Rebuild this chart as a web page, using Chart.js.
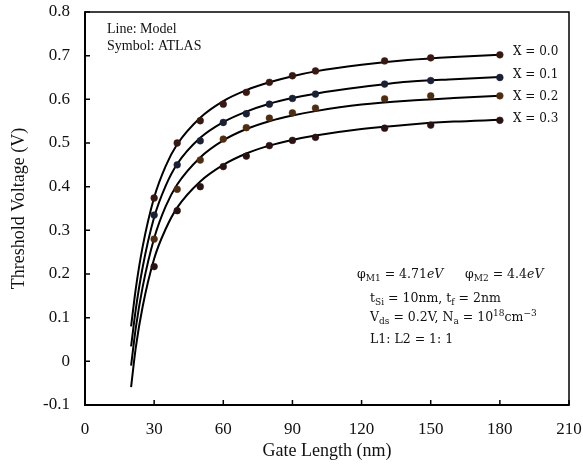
<!DOCTYPE html>
<html>
<head>
<meta charset="utf-8">
<script src="https://cdn.jsdelivr.net/npm/chart.js@4.4.1/dist/chart.umd.min.js"></script>
<style>
  html, body { margin: 0; padding: 0; background: #ffffff; }
  #wrap { width: 583px; height: 467px; }
</style>
</head>
<body>
<div id="wrap"><canvas id="c" width="583" height="467"></canvas></div>
<script>
// ---------- data ----------
const seriesNames = ['X = 0.0', 'X = 0.1', 'X = 0.2', 'X = 0.3'];

// ATLAS symbols
const atlasL = [30, 40, 50, 60, 70, 80, 90, 100, 130, 150, 180];
const atlasX00 = [0.374, 0.500, 0.551, 0.589, 0.616, 0.639, 0.654, 0.665, 0.688, 0.695, 0.702];
const atlasX01 = [0.335, 0.450, 0.505, 0.547, 0.567, 0.589, 0.602, 0.612, 0.635, 0.643, 0.650];
const atlasX02 = [0.280, 0.394, 0.461, 0.509, 0.535, 0.557, 0.569, 0.580, 0.601, 0.608, 0.608];
const atlasX03 = [0.217, 0.345, 0.400, 0.446, 0.470, 0.494, 0.506, 0.513, 0.534, 0.541, 0.552];

// Model lines
const modelL = [20, 22, 25, 30, 35, 40, 50, 60, 70, 80, 90, 100, 120, 140, 160, 180];
const modelX00 = [0.080, 0.165, 0.262, 0.375, 0.447, 0.497, 0.558, 0.596, 0.621, 0.639, 0.653, 0.664, 0.679, 0.690, 0.697, 0.702];
const modelX01 = [0.034, 0.118, 0.215, 0.330, 0.402, 0.452, 0.512, 0.548, 0.572, 0.590, 0.603, 0.613, 0.628, 0.640, 0.646, 0.651];
const modelX02 = [-0.010, 0.075, 0.170, 0.282, 0.355, 0.405, 0.467, 0.506, 0.532, 0.550, 0.563, 0.573, 0.588, 0.597, 0.603, 0.608];
const modelX03 = [-0.059, 0.030, 0.125, 0.235, 0.303, 0.352, 0.412, 0.450, 0.476, 0.494, 0.507, 0.517, 0.532, 0.542, 0.549, 0.553];

// tick labels
const xTickValues = [0, 30, 60, 90, 120, 150, 180, 210];
const yTickLabels = ['-0.1', '0', '0.1', '0.2', '0.3', '0.4', '0.5', '0.6', '0.7', '0.8'];

// ---------- build datasets ----------
const pts = (xs, ys) => xs.map((x, i) => ({ x: x, y: ys[i] }));
const atlasSets = [atlasX00, atlasX01, atlasX02, atlasX03];
const modelSets = [modelX00, modelX01, modelX02, modelX03];
const dotColors = ['#3a1812', '#1a2036', '#4e2d10', '#2a1212'];

const datasets = [];
modelSets.forEach((ys, i) => {
  datasets.push({
    label: 'Model ' + seriesNames[i],
    data: pts(modelL, ys),
    showLine: true,
    borderColor: '#000000',
    borderWidth: 2,
    pointRadius: 0,
    cubicInterpolationMode: 'monotone',
    fill: false,
    order: 2
  });
});
atlasSets.forEach((ys, i) => {
  datasets.push({
    label: 'ATLAS ' + seriesNames[i],
    data: pts(atlasL, ys),
    showLine: false,
    pointRadius: 3.4,
    pointBackgroundColor: dotColors[i],
    pointBorderColor: dotColors[i],
    pointBorderWidth: 0.5,
    order: 1
  });
});

// ---------- frame + inward ticks ----------
const framePlugin = {
  id: 'frame',
  afterDraw(chart) {
    const { ctx, chartArea: a, scales: { x, y } } = chart;
    ctx.save();
    ctx.strokeStyle = '#000';
    ctx.lineCap = 'butt';
    ctx.lineWidth = 1.5;
    ctx.beginPath();
    ctx.moveTo(a.left, a.top); ctx.lineTo(a.right, a.top); ctx.lineTo(a.right, a.bottom);
    ctx.stroke();
    ctx.lineWidth = 2;
    ctx.beginPath();
    ctx.moveTo(a.left, a.top - 0.75); ctx.lineTo(a.left, a.bottom); ctx.lineTo(a.right + 0.75, a.bottom);
    ctx.stroke();
    ctx.lineWidth = 1.5;
    ctx.beginPath();
    yTickLabels.forEach(t => {
      const py = y.getPixelForValue(parseFloat(t));
      ctx.moveTo(a.left, py); ctx.lineTo(a.left + 5, py);
    });
    xTickValues.forEach(v => {
      const px = x.getPixelForValue(v);
      ctx.moveTo(px, a.bottom); ctx.lineTo(px, a.bottom - 5);
    });
    ctx.stroke();
    ctx.restore();
  }
};

// ---------- annotation text ----------
function drawRich(ctx, x, y, segs, size, family) {
  let cx = x;
  segs.forEach(s => {
    const isSub = s.sub, isSup = s.sup;
    const fs = (isSub || isSup) ? size * 0.72 : size;
    ctx.font = (s.it ? 'italic ' : '') + fs + 'px ' + family;
    const dy = isSub ? size * 0.28 : (isSup ? -size * 0.38 : 0);
    ctx.fillText(s.t, cx, y + dy);
    cx += ctx.measureText(s.t).width;
  });
  return cx;
}

const textPlugin = {
  id: 'notes',
  afterDraw(chart) {
    const { ctx } = chart;
    ctx.save();
    ctx.fillStyle = '#111';
    ctx.textBaseline = 'middle';
    ctx.textAlign = 'left';
    ctx.font = '14px "Liberation Serif", "Times New Roman", serif';
    ctx.fillText('Line: Model', 107, 29);
    ctx.fillText('Symbol: ATLAS', 107, 46);
    const labelY = [52, 75, 97, 119];
    ctx.font = '12px "DejaVu Serif", serif';
    seriesNames.forEach((n, i) => ctx.fillText(n, 513, labelY[i]));
    const fam = '"DejaVu Serif", serif';
    const fs = 12.5;
    drawRich(ctx, 357, 275, [
      { t: 'φ' }, { t: 'M1', sub: true }, { t: ' = 4.71' }, { t: 'eV', it: true }
    ], fs, fam);
    drawRich(ctx, 465, 275, [
      { t: 'φ' }, { t: 'M2', sub: true }, { t: ' = 4.4' }, { t: 'eV', it: true }
    ], fs, fam);
    drawRich(ctx, 370, 299, [
      { t: 't' }, { t: 'Si', sub: true }, { t: ' = 10nm, t' }, { t: 'f', sub: true }, { t: ' = 2nm' }
    ], fs, fam);
    drawRich(ctx, 370, 318, [
      { t: 'V' }, { t: 'ds', sub: true }, { t: ' = 0.2V, N' }, { t: 'a', sub: true }, { t: ' = 10' },
      { t: '18', sup: true }, { t: 'cm' }, { t: '−3', sup: true }
    ], fs, fam);
    drawRich(ctx, 370, 340, [
      { t: 'L1: L2 = 1: 1' }
    ], fs, fam);
    ctx.restore();
  }
};

new Chart(document.getElementById('c'), {
  type: 'scatter',
  data: { datasets: datasets },
  options: {
    responsive: false,
    animation: false,
    devicePixelRatio: 1,
    layout: { padding: { left: 0, right: 14, top: 12, bottom: 0 } },
    plugins: { legend: { display: false }, tooltip: { enabled: false } },
    scales: {
      x: {
        type: 'linear',
        min: 0, max: 210,
        afterBuildTicks: s => { s.ticks = xTickValues.map(v => ({ value: v })); },
        afterFit: s => { s.height = 62; s.paddingLeft = 0; s.paddingRight = 0; },
        grid: { display: false, drawTicks: false },
        border: { display: false },
        ticks: {
          padding: 14,
          color: '#111',
          font: { family: '"Liberation Serif", "Times New Roman", serif', size: 17 },
          maxRotation: 0,
          callback: v => String(v)
        },
        title: {
          display: true,
          text: 'Gate Length (nm)',
          color: '#111',
          font: { family: '"Liberation Serif", "Times New Roman", serif', size: 18 },
          padding: { top: 0, bottom: 5 }
        }
      },
      y: {
        type: 'linear',
        min: -0.1, max: 0.8,
        afterBuildTicks: s => { s.ticks = yTickLabels.map(t => ({ value: parseFloat(t) })); },
        afterFit: s => { s.width = 85; s.paddingTop = 0; s.paddingBottom = 0; },
        grid: { display: false, drawTicks: false },
        border: { display: false },
        ticks: {
          padding: 15,
          color: '#111',
          font: { family: '"Liberation Serif", "Times New Roman", serif', size: 17 },
          callback: (v) => {
            const m = yTickLabels.find(t => Math.abs(parseFloat(t) - v) < 1e-6);
            return m !== undefined ? m : '';
          }
        },
        title: {
          display: true,
          text: 'Threshold Voltage (V)',
          color: '#111',
          font: { family: '"Liberation Serif", "Times New Roman", serif', size: 18 },
          padding: { top: 8, bottom: 0 }
        }
      }
    }
  },
  plugins: [framePlugin, textPlugin]
});
</script>
</body>
</html>
